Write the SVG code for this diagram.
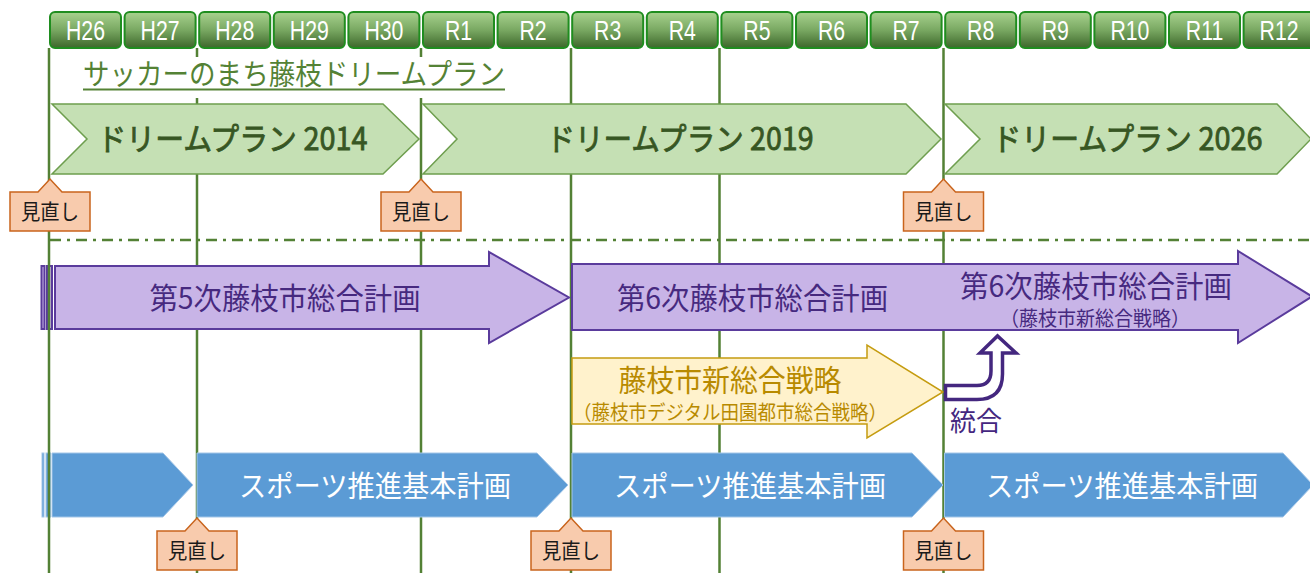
<svg xmlns="http://www.w3.org/2000/svg" width="1310" height="573" viewBox="0 0 1310 573">
<defs>
<linearGradient id="yg" x1="0" y1="0" x2="0" y2="1">
<stop offset="0" stop-color="#a8d28e"/>
<stop offset="0.5" stop-color="#79a862"/>
<stop offset="1" stop-color="#3d672b"/>
</linearGradient>
<style>
.jp{font-family:"Noto Sans CJK JP","Noto Sans",sans-serif;}
.yr rect{fill:url(#yg);stroke:#1f8d1f;stroke-width:2;}
.yr text{font-family:"Liberation Sans",Arial,sans-serif;font-size:28px;fill:#ffffff;text-anchor:middle;}
.vl{stroke:#538135;stroke-width:2.5;fill:none;}
.dream polygon{fill:#c5e0b4;stroke:#6e9e4e;stroke-width:1.5;}
.dream text{font-size:31px;font-weight:400;fill:#375623;text-anchor:middle;stroke:#375623;stroke-width:0.8;}
.call path{fill:#f8cbad;stroke:#c9641c;stroke-width:1.5;}
.call text{font-size:21px;fill:#1a1a1a;text-anchor:middle;}
.pur{fill:#c8b4e7;stroke:#5a3b9c;stroke-width:2;}
.ptxt{fill:#46297f;text-anchor:middle;}
.blue{fill:#5b9bd5;stroke:#a3c6e8;stroke-width:1;}
.btxt{fill:#ffffff;font-size:29px;text-anchor:middle;}
</style>
</defs>
<rect width="1310" height="573" fill="#ffffff"/>

<!-- left strips -->
<g id="strips">
<rect x="41.5" y="266" width="3" height="63" class="pur" stroke-width="1.5"/>
<rect x="47" y="266" width="5" height="63" class="pur" stroke-width="1.5"/>
<rect x="42" y="453" width="2" height="64" class="blue"/>
<rect x="46" y="453" width="4.5" height="64" class="blue"/>
</g>

<!-- connectors: timeline grid -->
<g id="connectors">
<line class="vl" x1="49" y1="48" x2="49" y2="573"/>
<line class="vl" x1="197" y1="48" x2="197" y2="573"/>
<line class="vl" x1="421" y1="48" x2="421" y2="573"/>
<line class="vl" x1="571" y1="48" x2="571" y2="573"/>
<line class="vl" x1="719.5" y1="48" x2="719.5" y2="573"/>
<line class="vl" x1="943.5" y1="48" x2="943.5" y2="573"/>
<line x1="50" y1="240" x2="1310" y2="240" stroke="#538135" stroke-width="2.5" stroke-dasharray="11 6 3 6"/>
</g>

<!-- title -->
<g id="title">
<rect x="60" y="57" width="450" height="41" fill="#ffffff"/>
<text class="jp" x="83" y="85" font-size="29" fill="#548235" textLength="422" lengthAdjust="spacingAndGlyphs">サッカーのまち藤枝ドリームプラン</text>
<line x1="83" y1="89.5" x2="505" y2="89.5" stroke="#548235" stroke-width="2"/>
</g>

<!-- year header -->
<g id="years" class="yr">
<g id="y-H26"><rect x="50" y="12" width="71" height="36" rx="5"/><text transform="translate(85.5,40) scale(0.76,1)">H26</text></g>
<g id="y-H27"><rect x="124.6" y="12" width="71" height="36" rx="5"/><text transform="translate(160.1,40) scale(0.76,1)">H27</text></g>
<g id="y-H28"><rect x="199.2" y="12" width="71" height="36" rx="5"/><text transform="translate(234.7,40) scale(0.76,1)">H28</text></g>
<g id="y-H29"><rect x="273.8" y="12" width="71" height="36" rx="5"/><text transform="translate(309.3,40) scale(0.76,1)">H29</text></g>
<g id="y-H30"><rect x="348.4" y="12" width="71" height="36" rx="5"/><text transform="translate(383.9,40) scale(0.76,1)">H30</text></g>
<g id="y-R1"><rect x="423" y="12" width="71" height="36" rx="5"/><text transform="translate(458.5,40) scale(0.76,1)">R1</text></g>
<g id="y-R2"><rect x="497.6" y="12" width="71" height="36" rx="5"/><text transform="translate(533.1,40) scale(0.76,1)">R2</text></g>
<g id="y-R3"><rect x="572.2" y="12" width="71" height="36" rx="5"/><text transform="translate(607.7,40) scale(0.76,1)">R3</text></g>
<g id="y-R4"><rect x="646.8" y="12" width="71" height="36" rx="5"/><text transform="translate(682.3,40) scale(0.76,1)">R4</text></g>
<g id="y-R5"><rect x="721.4" y="12" width="71" height="36" rx="5"/><text transform="translate(756.9,40) scale(0.76,1)">R5</text></g>
<g id="y-R6"><rect x="796" y="12" width="71" height="36" rx="5"/><text transform="translate(831.5,40) scale(0.76,1)">R6</text></g>
<g id="y-R7"><rect x="870.6" y="12" width="71" height="36" rx="5"/><text transform="translate(906.1,40) scale(0.76,1)">R7</text></g>
<g id="y-R8"><rect x="945.2" y="12" width="71" height="36" rx="5"/><text transform="translate(980.7,40) scale(0.76,1)">R8</text></g>
<g id="y-R9"><rect x="1019.8" y="12" width="71" height="36" rx="5"/><text transform="translate(1055.3,40) scale(0.76,1)">R9</text></g>
<g id="y-R10"><rect x="1094.4" y="12" width="71" height="36" rx="5"/><text transform="translate(1129.9,40) scale(0.76,1)">R10</text></g>
<g id="y-R11"><rect x="1169" y="12" width="71" height="36" rx="5"/><text transform="translate(1204.5,40) scale(0.76,1)">R11</text></g>
<g id="y-R12"><rect x="1243.6" y="12" width="71" height="36" rx="5"/><text transform="translate(1279.1,40) scale(0.76,1)">R12</text></g>
</g>

<!-- dream plans -->
<g id="dream2014" class="dream jp">
<polygon points="52,104 383,104 419,139 383,174 52,174 87,139"/>
<text x="232.5" y="150" textLength="270" lengthAdjust="spacingAndGlyphs">ドリームプラン 2014</text>
</g>
<g id="dream2019" class="dream jp">
<polygon points="423,104 906,104 941,139 906,174 423,174 457,139"/>
<text x="680" y="150" textLength="267" lengthAdjust="spacingAndGlyphs">ドリームプラン 2019</text>
</g>
<g id="dream2026" class="dream jp">
<polygon points="945,104 1277,104 1311,139 1277,174 945,174 980,139"/>
<text x="1127.5" y="150" textLength="270" lengthAdjust="spacingAndGlyphs">ドリームプラン 2026</text>
</g>

<!-- review callouts (top) -->
<g id="review-top-1" class="call jp" transform="translate(50,179)">
<path d="M-40,13 L-12,13 L0,0 L12,13 L40,13 L40,52 L-40,52 Z"/><text x="0" y="39.5" textLength="58" lengthAdjust="spacingAndGlyphs">見直し</text>
</g>
<g id="review-top-2" class="call jp" transform="translate(421,179)">
<path d="M-40,13 L-12,13 L0,0 L12,13 L40,13 L40,52 L-40,52 Z"/><text x="0" y="39.5" textLength="58" lengthAdjust="spacingAndGlyphs">見直し</text>
</g>
<g id="review-top-3" class="call jp" transform="translate(943.5,179)">
<path d="M-40,13 L-12,13 L0,0 L12,13 L40,13 L40,52 L-40,52 Z"/><text x="0" y="39.5" textLength="58" lengthAdjust="spacingAndGlyphs">見直し</text>
</g>

<!-- comprehensive plans -->
<g id="plan5" class="jp">
<polygon class="pur" points="55,266 489,266 489,252 569,297.5 489,343 489,329 55,329"/>
<text class="ptxt" x="285" y="309" font-size="29.5" textLength="271" lengthAdjust="spacingAndGlyphs">第5次藤枝市総合計画</text>
</g>
<g id="plan6" class="jp">
<polygon class="pur" points="572,264 1238,264 1238,251 1312,296.5 1238,343 1238,330 572,330"/>
<text class="ptxt" x="752.5" y="309" font-size="29.5" textLength="271" lengthAdjust="spacingAndGlyphs">第6次藤枝市総合計画</text>
<text class="ptxt" x="1096" y="297" font-size="29.5" textLength="272" lengthAdjust="spacingAndGlyphs">第6次藤枝市総合計画</text>
<text class="ptxt" x="1095" y="325.5" font-size="20" textLength="190" lengthAdjust="spacingAndGlyphs">（藤枝市新総合戦略）</text>
</g>

<!-- new comprehensive strategy -->
<g id="strategy" class="jp">
<polygon points="572,358 867,358 867,345 943,392 867,438 867,424 572,424" fill="#fff2cc" stroke="#c59c10" stroke-width="1.5"/>
<text x="730" y="391" font-size="29.5" fill="#b88a00" text-anchor="middle" textLength="223" lengthAdjust="spacingAndGlyphs">藤枝市新総合戦略</text>
<text x="730" y="419.5" font-size="20" fill="#b88a00" text-anchor="middle" textLength="314" lengthAdjust="spacingAndGlyphs">（藤枝市デジタル田園都市総合戦略）</text>
</g>

<!-- integration arrow -->
<g id="integrate" class="jp">
<path d="M945.5,385.5 L977,385.5 Q991,385.5 991,371 L991,353 L980,353 L997.5,336 L1016,353 L1002.5,353 L1002.5,374 Q1002.5,399.5 977,399.5 L945.5,399.5 Z" fill="#ffffff" stroke="#44277f" stroke-width="3.5" stroke-linejoin="miter"/>
<text x="976" y="431" font-size="27" fill="#44277f" text-anchor="middle" textLength="52" lengthAdjust="spacingAndGlyphs">統合</text>
</g>

<!-- sports plans -->
<g id="sports1" class="jp">
<polygon class="blue" points="52,453 163,453 193,485 163,517 52,517"/>
</g>
<g id="sports2" class="jp">
<polygon class="blue" points="197,453 537,453 568,485 537,517 197,517"/>
<text class="btxt" x="375" y="497" textLength="272" lengthAdjust="spacingAndGlyphs">スポーツ推進基本計画</text>
</g>
<g id="sports3" class="jp">
<polygon class="blue" points="572,453 912,453 943,485 912,517 572,517"/>
<text class="btxt" x="750" y="497" textLength="272" lengthAdjust="spacingAndGlyphs">スポーツ推進基本計画</text>
</g>
<g id="sports4" class="jp">
<polygon class="blue" points="944.5,453 1283,453 1313,485 1283,517 944.5,517"/>
<text class="btxt" x="1122" y="497" textLength="272" lengthAdjust="spacingAndGlyphs">スポーツ推進基本計画</text>
</g>

<!-- review callouts (bottom) -->
<g id="review-bottom-1" class="call jp" transform="translate(197,518)">
<path d="M-40,13 L-12,13 L0,0 L12,13 L40,13 L40,52 L-40,52 Z"/><text x="0" y="39.5" textLength="58" lengthAdjust="spacingAndGlyphs">見直し</text>
</g>
<g id="review-bottom-2" class="call jp" transform="translate(571,518)">
<path d="M-40,13 L-12,13 L0,0 L12,13 L40,13 L40,52 L-40,52 Z"/><text x="0" y="39.5" textLength="58" lengthAdjust="spacingAndGlyphs">見直し</text>
</g>
<g id="review-bottom-3" class="call jp" transform="translate(943.5,518)">
<path d="M-40,13 L-12,13 L0,0 L12,13 L40,13 L40,52 L-40,52 Z"/><text x="0" y="39.5" textLength="58" lengthAdjust="spacingAndGlyphs">見直し</text>
</g>
</svg>
